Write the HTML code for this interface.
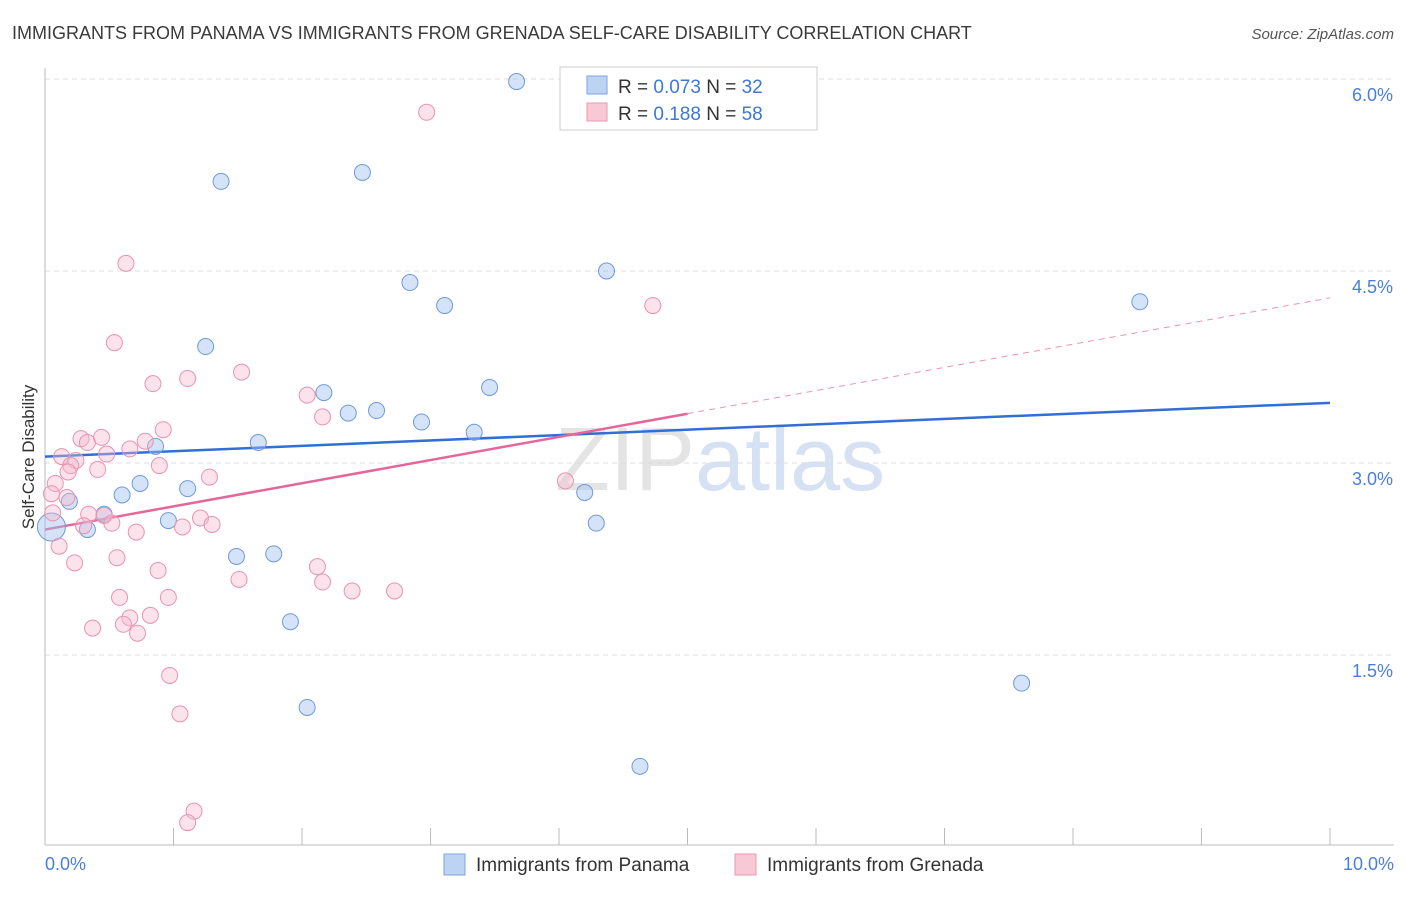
<!DOCTYPE html>
<html><head><meta charset="utf-8"><style>
body{margin:0;background:#fff;font-family:"Liberation Sans",sans-serif;}
svg text{font-family:"Liberation Sans",sans-serif;}
</style></head><body>
<svg id="chart" width="1406" height="892" xmlns="http://www.w3.org/2000/svg">
<text x="12" y="39" font-size="18" fill="#3a3a3a">IMMIGRANTS FROM PANAMA VS IMMIGRANTS FROM GRENADA SELF-CARE DISABILITY CORRELATION CHART</text>
<text x="1394" y="39" font-size="15" fill="#555" font-style="italic" text-anchor="end">Source: ZipAtlas.com</text>
<text x="555" y="490" font-size="90" fill="#e4e4e4" font-family="Liberation Serif">ZIP<tspan fill="#d6e2f3" font-family="Liberation Sans">atlas</tspan></text>
<text transform="translate(34,457) rotate(-90)" font-size="17" fill="#333" text-anchor="middle">Self-Care Disability</text>
<g id="grid"></g><g id="axes"></g><g id="trends"></g><g id="pts"></g>
<g>
<rect x="560" y="67" width="257" height="63" fill="#fff" stroke="#ccc"/>
<rect x="587" y="76" width="20" height="18" fill="#bcd3f3" stroke="#7ea3dd"/>
<text x="618" y="93" font-size="19" fill="#333">R = <tspan fill="#3d78d8">0.073</tspan>   N = <tspan fill="#3d78d8">32</tspan></text>
<rect x="587" y="103" width="20" height="18" fill="#f9c8d6" stroke="#e99ab2"/>
<text x="618" y="120" font-size="19" fill="#333">R =  <tspan fill="#3d78d8">0.188</tspan>   N = <tspan fill="#3d78d8">58</tspan></text>
</g>
<g>
<rect x="444" y="854" width="21" height="21" fill="#bcd3f3" stroke="#7ea3dd"/>
<text x="476" y="871" font-size="19" fill="#333">Immigrants from Panama</text>
<rect x="735" y="854" width="21" height="21" fill="#f9c8d6" stroke="#e99ab2"/>
<text x="767" y="871" font-size="19" fill="#333">Immigrants from Grenada</text>
</g>
</svg>
<script>
const xTicks=[0,1,2,3,4,5,6,7,8,9,10];
const yTicks=[1.5,3.0,4.5,6.0];
const yTickLabels=["1.5%","3.0%","4.5%","6.0%"];
const xTickLabels=["0.0%","10.0%"];
const panamaX=[3.67,1.37,2.47,2.84,3.11,4.37,8.52,1.25,2.17,3.46,2.36,2.58,2.93,3.34,1.66,0.86,0.74,1.11,0.60,0.19,0.33,0.46,0.96,4.20,4.29,1.49,1.78,1.91,7.60,2.04,4.63,0.05];
const panamaY=[5.98,5.20,5.27,4.41,4.23,4.50,4.26,3.91,3.55,3.59,3.39,3.41,3.32,3.24,3.16,3.13,2.84,2.80,2.75,2.70,2.48,2.60,2.55,2.77,2.53,2.27,2.29,1.76,1.28,1.09,0.63,2.50];
const grenadaX=[2.97,0.63,4.73,0.54,0.84,1.11,1.53,2.04,2.16,0.92,0.28,0.33,0.44,0.66,0.78,0.48,0.13,0.24,0.20,0.89,0.41,0.18,1.28,4.05,0.08,0.05,0.17,0.06,0.34,0.46,0.52,0.30,1.21,0.71,1.07,1.30,0.11,0.56,0.23,0.88,2.12,1.51,2.16,2.39,2.72,0.58,0.96,0.82,0.66,0.61,0.37,0.72,0.97,1.05,1.16,1.11];
const grenadaY=[5.74,4.56,4.23,3.94,3.62,3.66,3.71,3.53,3.36,3.26,3.19,3.16,3.20,3.11,3.17,3.07,3.05,3.02,2.98,2.98,2.95,2.93,2.89,2.86,2.84,2.76,2.73,2.61,2.60,2.59,2.53,2.51,2.57,2.46,2.50,2.52,2.35,2.26,2.22,2.16,2.19,2.09,2.07,2.00,2.00,1.95,1.95,1.81,1.79,1.74,1.71,1.67,1.34,1.04,0.28,0.19];
const panamaTrend=[3.05,3.47];
const grenadaTrend=[2.48,4.29];
const NS="http://www.w3.org/2000/svg";
const sx=v=>45+v*128.5, sy=v=>847-v*128;
function mk(tag,attrs,parent){const e=document.createElementNS(NS,tag);for(const k in attrs)e.setAttribute(k,attrs[k]);document.getElementById(parent).appendChild(e);return e;}
yTicks.forEach((t,i)=>{
 const g=mk('line',{x1:45,x2:1394,y1:sy(t),y2:sy(t),stroke:'#ddd','stroke-dasharray':'5,4'},'grid');
 
 
 const tx=mk('text',{x:1393,y:sy(t)+22,'font-size':18,fill:'#4a7fd8','text-anchor':'end'},'grid');
 tx.textContent=yTickLabels[i];
 
 
});
const yl=mk('line',{x1:45,x2:45,y1:68,y2:845,stroke:'#bbb'},'axes');


const xl=mk('line',{x1:45,x2:1394,y1:845,y2:845,stroke:'#bbb'},'axes');


xTicks.forEach(t=>{
 const l=mk('line',{x1:sx(t),x2:sx(t),y1:828,y2:845,stroke:'#bbb'},'axes');
 
 
});
[[0,'start',45],[10,'end',1394]].forEach((d,i)=>{
 const tx=mk('text',{x:d[2],y:870,'font-size':18,fill:'#4a7fd8','text-anchor':d[1]},'axes');
 tx.textContent=xTickLabels[i];
 
 
});
panamaX.forEach((x,i)=>{
 const r=i===panamaX.length-1?14:8;
 const c=mk('circle',{cx:sx(x),cy:sy(panamaY[i]),r:r,fill:'rgba(160,192,238,0.45)',stroke:'#6f9ad8','stroke-width':1},'pts');
 
 
});
grenadaX.forEach((x,i)=>{
 const c=mk('circle',{cx:sx(x),cy:sy(grenadaY[i]),r:8,fill:'rgba(247,184,204,0.4)',stroke:'#e993ae','stroke-width':1},'pts');
 
 
});
const bt=mk('line',{x1:sx(0),x2:sx(10),y1:sy(panamaTrend[0]),y2:sy(panamaTrend[1]),stroke:'#2f6fd6','stroke-width':2.5},'trends');


const gm=grenadaTrend[0]+(grenadaTrend[1]-grenadaTrend[0])*0.5;
const pt=mk('line',{x1:sx(0),x2:sx(5),y1:sy(grenadaTrend[0]),y2:sy(gm),stroke:'#e4679a','stroke-width':2.5},'trends');


const pd=mk('line',{x1:sx(5),x2:sx(10),y1:sy(gm),y2:sy(grenadaTrend[1]),stroke:'#e995b5','stroke-width':1,'stroke-dasharray':'6,5'},'trends');


</script>
</body></html>
